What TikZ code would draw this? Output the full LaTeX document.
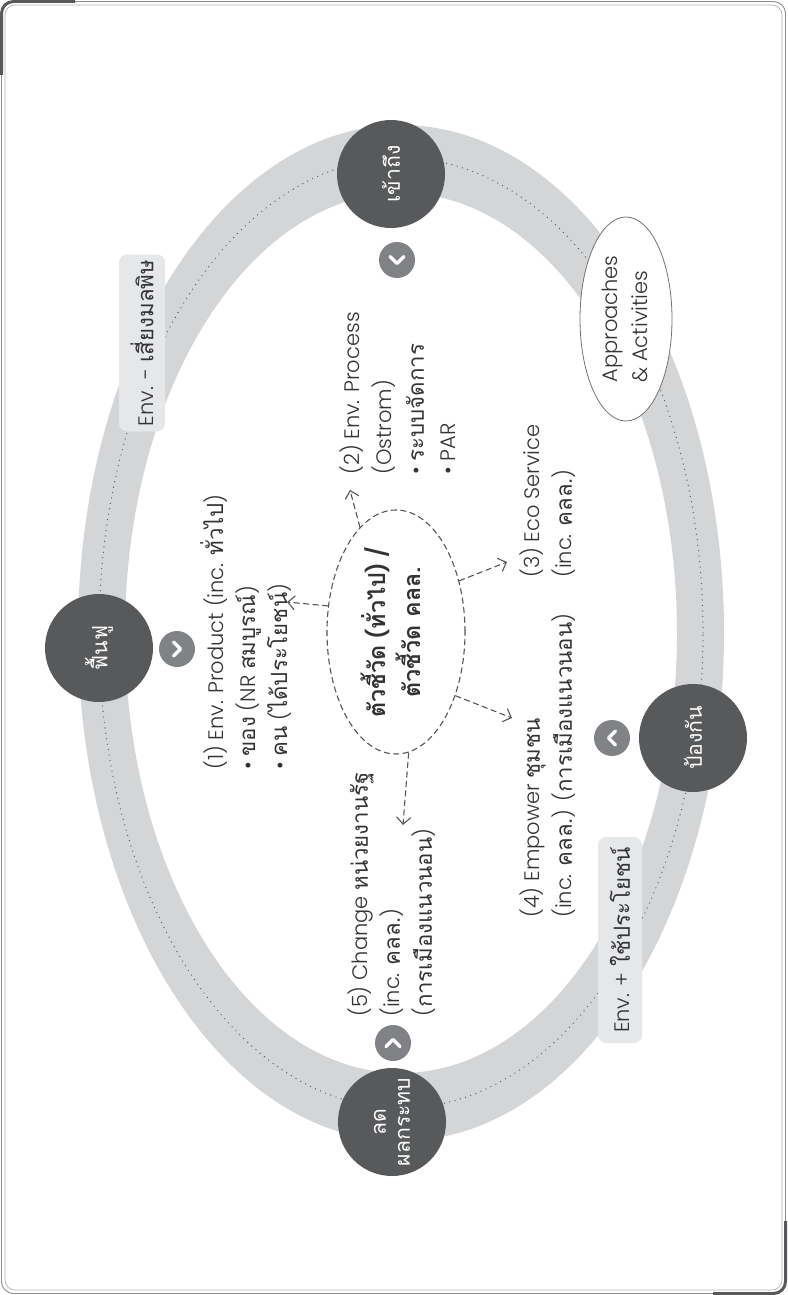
\documentclass[tikz,border=0pt]{standalone}
\usepackage{fontspec}
\usepackage{graphicx}
\setmainfont{Poppins}[UprightFont={* Light},BoldFont={* SemiBold}]
\newfontfamily\thai[Script=Thai,Scale=1.06]{Loma}
\newcommand\T[1]{{\thai #1}}
\usetikzlibrary{shapes.geometric,arrows.meta,calc}
\definecolor{ringc}{HTML}{D4D5D7}
\definecolor{darkc}{HTML}{58595B}
\definecolor{chevc}{HTML}{808285}
\definecolor{boxc}{HTML}{E6E7E8}
\definecolor{txtc}{HTML}{333335}
\definecolor{linec}{HTML}{555555}
\begin{document}
\begin{tikzpicture}[x=1pt,y=1pt,
  blocktxt/.style={rotate=90,anchor=north west,align=left,inner sep=0pt,text=txtc,font=\fontsize{21}{32}\selectfont},
  stage/.style={circle,fill=darkc,minimum size=108pt,inner sep=0pt,text=white,font=\fontsize{20}{24}\selectfont,align=center},
  chevbg/.style={circle,fill=chevc,minimum size=36pt,inner sep=0pt},
  chev/.style={white,line width=3.5pt,line cap=round,line join=round},
  tag/.style={rounded corners=8pt,fill=boxc,text=txtc,font=\fontsize{21}{26}\selectfont,inner sep=0pt},
  darrow/.style={linec,line width=1.1pt,dash pattern=on 6pt off 3.5pt,-{Straight Barb[length=7pt,width=14pt]}},
]
\useasboundingbox (0,0) rectangle (787,-1295);
% frame
\draw[color=black!45, line width=0.9pt, rounded corners=12pt] (1.5,-1.5) rectangle (785.5,-1293.5);
\draw[color=black!30, line width=0.7pt, rounded corners=10pt] (5,-5) rectangle (782,-1290);
\draw[color=darkc, line width=3pt, rounded corners=12pt] (1.5,-75) |- (75,-1.5);
\draw[color=darkc, line width=3pt, rounded corners=12pt] (785.5,-1221) |- (713,-1293.5);
% ring
\fill[ringc, even odd rule] (401,-633) ellipse [x radius=323, y radius=508] (401,-633) ellipse [x radius=276, y radius=440];
\draw[linec, line width=1.3pt, line cap=round, dash pattern=on 0pt off 5.5pt] (401,-633) ellipse [x radius=302, y radius=475];
% tags
\node[tag, rotate=90, minimum width=177pt, minimum height=46pt] (tagm) at (142,-343) {Env. - \T{เสี่ยงมลพิษ}};
\node[tag, rotate=90, minimum width=206pt, minimum height=44pt] (tagp) at (620,-940) {Env. + \T{ใช้ประโยชน์}};
% approaches
\node[ellipse, draw=black!55, line width=0.8pt, fill=white, minimum width=92pt, minimum height=204pt, inner sep=0pt, text=txtc, font=\fontsize{21}{30}\selectfont] (ap) at (626,-319) {\rotatebox{90}{\begin{tabular}{@{}l@{}}Approaches\\\& Activities\end{tabular}}};
% stages
\node[stage, rotate=90] (s1) at (391,-174) {\T{เข้าถึง}};
\node[stage, rotate=90] (s2) at (99,-648) {\T{ฟื้นฟู}};
\node[stage, rotate=90] (s3) at (693,-738) {\T{ป้องกัน}};
\node[stage, rotate=90] (s4) at (392,-1122) {\T{ลด}\\\T{ผลกระทบ}};
% chevrons
\node[chevbg] (k1) at (397,-260) {};
\draw[chev] ($(k1)+(-7,3.5)$) -- ($(k1)+(0,-3.5)$) -- ($(k1)+(7,3.5)$);
\node[chevbg] (k2) at (177,-649) {};
\draw[chev] ($(k2)+(-3.5,7)$) -- ($(k2)+(3.5,0)$) -- ($(k2)+(-3.5,-7)$);
\node[chevbg] (k3) at (612,-738) {};
\draw[chev] ($(k3)+(3.5,7)$) -- ($(k3)+(-3.5,0)$) -- ($(k3)+(3.5,-7)$);
\node[chevbg] (k4) at (393,-1043) {};
\draw[chev] ($(k4)+(-7,-3.5)$) -- ($(k4)+(0,3.5)$) -- ($(k4)+(7,-3.5)$);
% center
\node[ellipse, draw=linec, line width=1.1pt, dash pattern=on 6pt off 3.5pt, minimum width=138pt, minimum height=244pt, inner sep=0pt, text=txtc, font=\fontsize{22}{34}\selectfont] (c) at (396,-632) {\rotatebox{90}{\begin{tabular}{@{}c@{}}\bfseries\T{ตัวชี้วัด} (\T{ทั่วไป}) /\\\bfseries\T{ตัวชี้วัด คลล.}\end{tabular}}};
% text blocks
\node[blocktxt] (b1) at (200,-770) {(1) Env. Product (inc. \T{ทั่วไป})\\• \T{ของ} (NR \T{สมบูรณ์})\\• \T{คน} (\T{ได้ประโยชน์})};
\node[blocktxt] (b2) at (340,-475) {(2) Env. Process\\(Ostrom)\\• \T{ระบบจัดการ}\\• PAR};
\node[blocktxt] (b3) at (520,-578) {(3) Eco Service\\(inc. \T{คลล.})};
\node[blocktxt] (b4) at (520,-918) {(4) Empower \T{ชุมชน}\\(inc. \T{คลล.}) (\T{การเมืองแนวนอน})};
\node[blocktxt] (b5) at (348,-1017) {(5) Change \T{หน่วยงานรัฐ}\\(inc. \T{คลล.})\\(\T{การเมืองแนวนอน})};
% arrows
\coordinate (t1) at (287,-602);
\coordinate (t2) at (350,-490);
\coordinate (t3) at (507,-562);
\coordinate (t4) at (512,-718);
\coordinate (t5) at (403,-825);
\draw[darrow] (c.159) -- (t1);
\draw[darrow] (c.109) -- (t2);
\draw[darrow] (c.39) -- (t3);
\draw[darrow] (c.-47) -- (t4);
\draw[darrow] (c.-84) -- (t5);
\end{tikzpicture}
\end{document}
